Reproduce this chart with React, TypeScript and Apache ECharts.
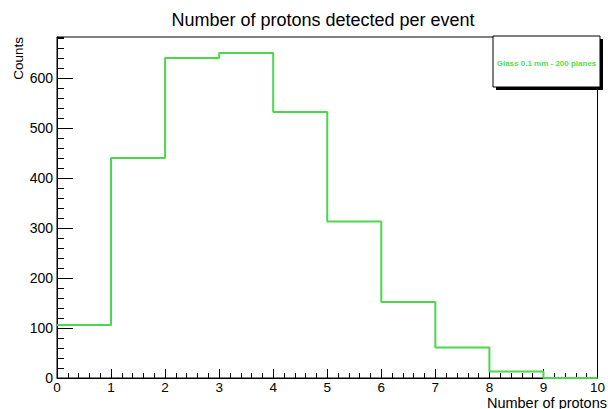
import React, { useEffect, useRef } from "react";
import * as echarts from "echarts";

// Histogram bin edges and bin contents
const binEdges = [0, 1, 2, 3, 4, 5, 6, 7, 8, 9, 10];
const counts = [106, 440, 640, 650, 532, 313, 152, 61, 13, 0];

const titleText = "Number of protons detected per event";
const xTitle = "Number of protons";
const yTitle = "Counts";
const legendText = "Glass 0.1 mm - 200 planes";

const Y_MAX = 682;
const LINE_GREEN = "#4cd64c";
const FONT = "'Liberation Sans', Arial, Helvetica, sans-serif";

export default function App() {
  const ref = useRef<HTMLDivElement>(null);

  useEffect(() => {
    if (!ref.current) return;
    const chart = echarts.init(ref.current, null, { renderer: "svg" });

    // step outline: each bin edge paired with the bin content, last edge repeats last bin
    const stepData = binEdges.map((x, i) => [x, counts[Math.min(i, counts.length - 1)]]);

    chart.setOption({
      animation: false,
      backgroundColor: "#ffffff",
      textStyle: { fontFamily: FONT },
      title: {
        text: titleText,
        left: 318,
        top: 6,
        textAlign: "center",
        textStyle: { fontFamily: FONT, fontSize: 18, fontWeight: "normal", color: "#000" },
      },
      grid: {
        left: 57,
        right: 8,
        top: 37,
        bottom: 31,
        show: true,
        borderColor: "#000",
        borderWidth: 1,
        backgroundColor: "transparent",
      },
      xAxis: {
        type: "value",
        min: 0,
        max: 10,
        interval: 1,
        axisLine: { show: true, onZero: false, lineStyle: { color: "#000", width: 1 } },
        axisTick: { show: true, inside: true, length: 9, lineStyle: { color: "#000" } },
        minorTick: { show: true, splitNumber: 5, length: 5, lineStyle: { color: "#000" } },
        splitLine: { show: false },
        axisLabel: { color: "#000", fontSize: 13.5, lineHeight: 13, margin: 3, fontFamily: FONT },
      },
      yAxis: [
        {
          type: "value",
          min: 0,
          max: Y_MAX,
          interval: 100,
          axisLine: { show: true, onZero: false, lineStyle: { color: "#000", width: 1 } },
          axisTick: { show: true, inside: true, length: 16, lineStyle: { color: "#000" } },
          splitLine: { show: false },
          axisLabel: {
            color: "#000",
            fontSize: 14,
            margin: 4,
            fontFamily: FONT,
            showMaxLabel: false,
          },
        },
        {
          // minor ticks every 20 counts
          type: "value",
          position: "left",
          min: 0,
          max: Y_MAX,
          interval: 20,
          axisLine: { show: false },
          axisTick: { show: true, inside: true, length: 7, lineStyle: { color: "#000" } },
          splitLine: { show: false },
          axisLabel: { show: false },
        },
      ],
      series: [
        {
          type: "line",
          step: "end",
          data: stepData,
          symbol: "none",
          lineStyle: { color: LINE_GREEN, width: 2 },
          clip: true,
        },
      ],
      graphic: [
        {
          type: "text",
          x: 18,
          y: 37,
          rotation: Math.PI / 2,
          style: {
            text: yTitle,
            fontSize: 13.5,
            fontFamily: FONT,
            fill: "#000",
            align: "right",
            verticalAlign: "middle",
          },
        },
        {
          type: "text",
          x: 607,
          y: 409,
          style: {
            text: xTitle,
            fontSize: 14.5,
            lineHeight: 13,
            fontFamily: FONT,
            fill: "#000",
            align: "right",
            verticalAlign: "bottom",
          },
        },
        {
          type: "rect",
          shape: { x: 496, y: 39, width: 107, height: 51 },
          style: { fill: "#000" },
        },
        {
          type: "rect",
          shape: { x: 493, y: 36, width: 107, height: 51 },
          style: { fill: "#fff", stroke: "#000", lineWidth: 1 },
        },
        {
          type: "text",
          x: 546.5,
          y: 63,
          style: {
            text: legendText,
            fontSize: 8,
            fontWeight: "bold",
            fontFamily: FONT,
            fill: "#52dc52",
            align: "center",
            verticalAlign: "middle",
          },
        },
      ],
    });

    return () => chart.dispose();
  }, []);

  return <div ref={ref} style={{ width: 608, height: 409, position: "absolute", left: 0, top: 0 }} />;
}
